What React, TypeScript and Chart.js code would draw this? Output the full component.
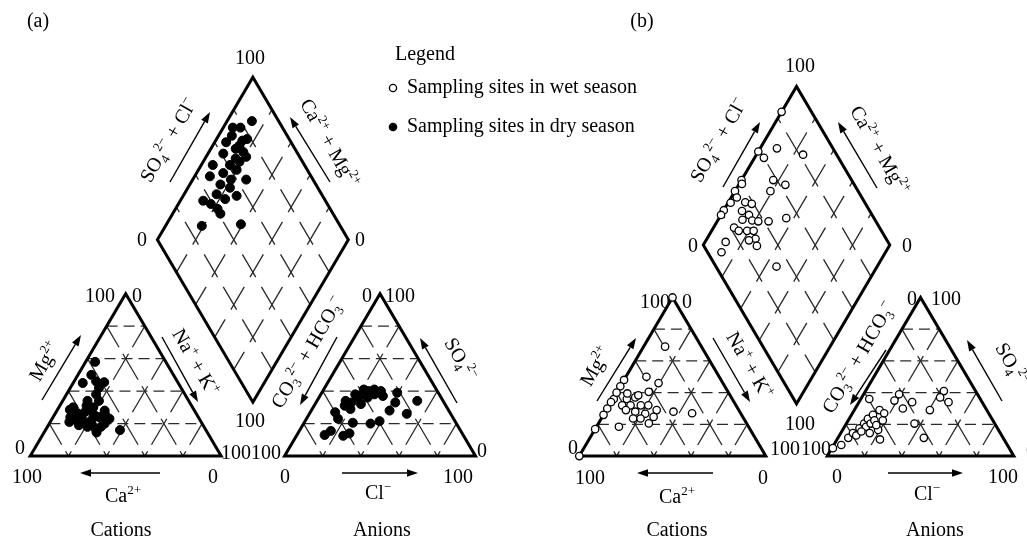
import React, { useEffect, useRef } from "react";
import { Chart, registerables } from "chart.js";
Chart.register(...registerables);

const S3 = Math.sqrt(3) / 2;
const FONT = '"Liberation Serif", "Times New Roman", serif';

// ---------- Panel (a): sampling sites in dry season ----------
// cation triangle: Na+ + K+ (%) and Mg2+ (%)
const dryCatNaK = [5, 7, 5, 16, 15, 15.5, 13, 12, 15, 18, 12, 16.5, 21, 24, 27, 29, 21, 16, 28, 39, 18, 30, 11.5, 7.5, 27.5, 6.5, 10, 20, 23, 25, 14, 9, 19];
const dryCatMg = [58, 50, 45, 45.5, 42, 38, 34, 26, 27, 28, 23, 22, 22, 24, 25, 20, 18, 19, 18, 16, 30, 23, 46, 30, 14.5, 28.5, 21, 26, 19, 28, 31, 24, 34];
// anion triangle: Cl- (%) and SO4 2- (%)
const dryAnCl = [52.5, 51, 41, 39.5, 41.5, 26.5, 30.5, 21, 20.5, 18.5, 16, 25.5, 16.5, 25.5, 35, 39, 14.5, 16.5, 24.5, 27, 24, 33, 24, 18, 15, 22, 28, 20, 13];
const dryAnSO4 = [34, 26, 28, 39, 33, 41, 40, 41, 36, 33, 31, 36, 23, 20.5, 20, 21.5, 13, 15.5, 12.5, 14, 32, 37, 40, 38, 34, 38, 38, 29, 27];
// diamond: SO4 2- + Cl- (%) and Ca2+ + Mg2+ (%)
const dryDiaSO4Cl = [86, 74, 78, 66, 75, 78, 61, 69, 72, 66, 52, 61, 67, 72, 47, 55, 63, 65, 50, 54, 55, 45, 36, 39, 41, 27.5, 48.5, 48, 41, 57, 72, 71];
const dryDiaCaMg = [87, 95, 91, 94, 86, 84, 92, 87, 82, 84, 94, 85, 81, 79, 92, 86, 80, 72, 84, 78, 72, 83, 88, 83, 75, 81, 61, 77, 78, 80, 86, 93];

// ---------- Panel (b): sampling sites in wet season ----------
const wetCatNaK = [0, 11.5, 11, 19.5, 0, 0, 17, 0.5, 0, 0, 0, 0, 12, 7.5, 11.5, 11.5, 17, 21, 16, 22, 27, 17, 27, 21, 36.5, 47, 7, 10.5, 0, 6, 27.5, 12.5, 0];
const wetCatMg = [100, 69, 50, 46, 48, 44, 40.5, 36, 30, 26, 17, 0, 18.5, 36, 37, 32, 32, 32, 28, 26.7, 29, 23.7, 20.6, 23.7, 28, 27, 32, 29, 34, 39.5, 24.7, 38.3, 40];
const wetAnCl = [4.5, 13.5, 19, 18.5, 25.5, 28.5, 42, 42, 48, 40.5, 36.5, 46, 23, 19, 18.5, 0.5, 4, 5.5, 6.5, 8.5, 9.5, 10, 11.5, 11.5, 13, 14, 9, 10.5, 16.5, 15.5, 17];
const wetAnSO4 = [36, 29, 39, 35, 30, 34, 41, 37, 34, 29, 20.5, 11.5, 10.5, 16.5, 22.5, 5, 7, 11.5, 14.5, 17.5, 20.5, 23.5, 26, 18.5, 20.5, 22.5, 13, 15.5, 19.5, 14.5, 27];
const wetDiaSO4Cl = [84, 59, 60, 70, 82, 41, 40, 34, 58, 63, 53, 22, 19, 28, 36, 39, 31.5, 34, 34, 37, 29, 22, 23.5, 28, 31.5, 30, 26, 28.5, 42.5, 53, 13, 7.5, 32.5, 33];
const wetDiaCaMg = [100, 100, 95, 91, 75, 100, 98.6, 100, 83, 75, 81, 100, 100, 98.7, 91, 87, 90, 85, 81.5, 78, 87, 89, 85.5, 81, 77.5, 74, 77, 71, 72.5, 64, 89, 88, 54, 97];

const GAP_A = 33.2;
const GAP_B = 33;

// tick / axis texts
const T0 = "0";
const T100 = "100";

type Run = [string, number];
const R_SO4CL: Run[] = [["SO", 0], ["4", 2], ["2−", 1], [" + Cl", 0], ["−", 1]];
const R_CAMG: Run[] = [["Ca", 0], ["2+", 1], [" + Mg", 0], ["2+", 1]];
const R_MG: Run[] = [["Mg", 0], ["2+", 1]];
const R_NAK: Run[] = [["Na", 0], ["+", 1], [" + K", 0], ["+", 1]];
const R_CO3: Run[] = [["CO", 0], ["3", 2], ["2−", 1], [" + HCO", 0], ["3", 2], ["−", 1]];
const R_SO4: Run[] = [["SO", 0], ["4", 2], ["2−", 1]];
const R_CA: Run[] = [["Ca", 0], ["2+", 1]];
const R_CL: Run[] = [["Cl", 0], ["−", 1]];

interface Lab { t: Run[] | string; x: number; y: number; a?: number; }

const labelsA: Lab[] = [
  { t: "(a)", x: 38, y: 20 },
  { t: T100, x: 250, y: 57 },
  { t: T0, x: 142, y: 239 },
  { t: T0, x: 360, y: 239 },
  { t: R_SO4CL, x: 168, y: 140, a: -60 },
  { t: R_CAMG, x: 330, y: 143, a: 60 },
  { t: T100, x: 100, y: 295 }, { t: T0, x: 137, y: 295 },
  { t: T0, x: 20, y: 447 },
  { t: T100, x: 236, y: 452 }, { t: T100, x: 266, y: 452 },
  { t: T100, x: 27, y: 476 }, { t: T0, x: 213, y: 476 },
  { t: R_CA, x: 123, y: 495 },
  { t: "Cations", x: 121, y: 529 },
  { t: R_MG, x: 44, y: 361, a: -60 },
  { t: R_NAK, x: 196, y: 362, a: 60 },
  { t: T100, x: 250, y: 420 },
  { t: T0, x: 367, y: 295 }, { t: T100, x: 400, y: 295 },
  { t: T0, x: 285, y: 476 }, { t: T100, x: 458, y: 476 },
  { t: T0, x: 482, y: 450 },
  { t: R_CL, x: 378, y: 492 },
  { t: "Anions", x: 382, y: 529 },
  { t: R_CO3, x: 307, y: 352, a: -60 },
  { t: R_SO4, x: 461, y: 359, a: 60 },
];
const arrowsA = [[170, 182, 210, 112], [330, 182, 290, 117], [160, 473, 80, 473], [42, 400, 81, 335], [162, 337, 198, 402], [337, 337, 300, 405], [457, 403, 420, 338], [342, 473, 418, 473]];

const labelsB: Lab[] = [
  { t: "(b)", x: 642, y: 20 },
  { t: T100, x: 800, y: 65 },
  { t: T0, x: 693, y: 245 }, { t: T0, x: 907, y: 245 },
  { t: R_SO4CL, x: 718, y: 140, a: -60 },
  { t: R_CAMG, x: 880, y: 150, a: 60 },
  { t: T100, x: 655, y: 301 }, { t: T0, x: 687, y: 301 },
  { t: T0, x: 573, y: 447 },
  { t: T100, x: 785, y: 448 }, { t: T100, x: 816, y: 448 },
  { t: T100, x: 590, y: 477 }, { t: T0, x: 763, y: 477 },
  { t: R_CA, x: 677, y: 496 },
  { t: "Cations", x: 677, y: 529 },
  { t: R_MG, x: 595, y: 366, a: -60 },
  { t: R_NAK, x: 750, y: 365, a: 60 },
  { t: T100, x: 800, y: 423 },
  { t: T0, x: 912, y: 298 }, { t: T100, x: 946, y: 298 },
  { t: T0, x: 837, y: 476 }, { t: T100, x: 1003, y: 476 },
  { t: T0, x: 1031, y: 450 },
  { t: R_CL, x: 927, y: 493 },
  { t: "Anions", x: 935, y: 529 },
  { t: R_CO3, x: 858, y: 357, a: -60 },
  { t: R_SO4, x: 1012, y: 364, a: 60 },
];
const arrowsB = [[723, 187, 760, 122], [877, 188, 838, 122], [713, 473, 637, 473], [597, 401, 636, 338], [713, 338, 750, 402], [886, 350, 850, 405], [1002, 401, 967, 340], [888, 473, 963, 473]];

const LEGEND_TITLE = "Legend";
const LEGEND_WET = "Sampling sites in wet season";
const LEGEND_DRY = "Sampling sites in dry season";

// ---------- ternary -> piper plane ----------
const catPt = (nak: number, mg: number) => ({ x: nak + mg / 2, y: mg * S3 });
const anPt = (cl: number, so4: number, g: number) => ({ x: 100 + g + cl + so4 / 2, y: so4 * S3 });
const diaPt = (a: number, b: number, g: number) => ({ x: 100 + g / 2 + 0.5 * (a - b), y: g * S3 + S3 * (a + b) });

function buildPoints(cN: number[], cM: number[], aC: number[], aS: number[], dA: number[], dB: number[], g: number) {
  const pts: { x: number; y: number }[] = [];
  cN.forEach((v, i) => pts.push(catPt(v, cM[i])));
  aC.forEach((v, i) => pts.push(anPt(v, aS[i], g)));
  dA.forEach((v, i) => pts.push(diaPt(v, dB[i], g)));
  return pts;
}

function drawRich(ctx: CanvasRenderingContext2D, t: Run[] | string, cx: number, cy: number, ang: number, fs: number) {
  const runs: Run[] = typeof t === "string" ? [[t, 0]] : t;
  const small = fs * 0.65;
  ctx.save();
  ctx.translate(cx, cy);
  ctx.rotate((ang * Math.PI) / 180);
  ctx.textAlign = "left";
  ctx.textBaseline = "alphabetic";
  ctx.fillStyle = "#000";
  let w = 0;
  for (const [s, k] of runs) {
    ctx.font = `${k ? small : fs}px ${FONT}`;
    w += ctx.measureText(s).width;
  }
  let x = -w / 2;
  const base = fs * 0.34;
  for (const [s, k] of runs) {
    ctx.font = `${k ? small : fs}px ${FONT}`;
    const dy = k === 1 ? -fs * 0.4 : k === 2 ? fs * 0.22 : 0;
    ctx.fillText(s, x, base + dy);
    x += ctx.measureText(s).width;
  }
  ctx.restore();
}

function drawArrow(ctx: CanvasRenderingContext2D, a: number[]) {
  const [x1, y1, x2, y2] = a;
  const ang = Math.atan2(y2 - y1, x2 - x1);
  const hl = 11, hw = 3.8;
  const bx = x2 - hl * Math.cos(ang), by = y2 - hl * Math.sin(ang);
  ctx.save();
  ctx.strokeStyle = "#000";
  ctx.fillStyle = "#000";
  ctx.lineWidth = 1.4;
  ctx.setLineDash([]);
  ctx.beginPath();
  ctx.moveTo(x1, y1);
  ctx.lineTo(bx, by);
  ctx.stroke();
  ctx.beginPath();
  ctx.moveTo(x2, y2);
  ctx.lineTo(bx - hw * Math.sin(ang), by + hw * Math.cos(ang));
  ctx.lineTo(bx + hw * Math.sin(ang), by - hw * Math.cos(ang));
  ctx.closePath();
  ctx.fill();
  ctx.restore();
}

function drawPanel(chart: any, xId: string, yId: string, g: number) {
  const ctx: CanvasRenderingContext2D = chart.ctx;
  const xs = chart.scales[xId], ys = chart.scales[yId];
  const X = (v: number) => xs.getPixelForValue(v);
  const Y = (v: number) => ys.getPixelForValue(v);
  const P = (p: number[]) => [X(p[0]), Y(p[1])];

  const segLine = (top: number[], bot: number[], n: number, above: number, below: number) => {
    const [x0, y0] = P(top), [x1, y1] = P(bot);
    ctx.beginPath();
    for (let k = 0; k <= n; k++) {
      const t0 = Math.max(0, (k - above) / n), t1 = Math.min(1, (k + below) / n);
      if (t1 <= t0) continue;
      ctx.moveTo(x0 + (x1 - x0) * t0, y0 + (y1 - y0) * t0);
      ctx.lineTo(x0 + (x1 - x0) * t1, y0 + (y1 - y0) * t1);
    }
    ctx.stroke();
  };

  ctx.save();
  ctx.strokeStyle = "#2a2a2a";
  ctx.lineWidth = 1.3;
  // triangle grids
  for (const x0 of [0, 100 + g]) {
    ctx.setLineDash([11, 6]);
    for (let k = 1; k <= 4; k++) {
      const h = 20 * k;
      const a = P([x0 + h / 2, h * S3]), b = P([x0 + 100 - h / 2, h * S3]);
      ctx.beginPath();
      ctx.moveTo(a[0], a[1]);
      ctx.lineTo(b[0], b[1]);
      ctx.stroke();
    }
    ctx.setLineDash([]);
    for (let j = 1; j <= 4; j++) {
      const bot = [x0 + 20 * j, 0];
      segLine([x0 + 20 * j + (100 - 20 * j) / 2, (100 - 20 * j) * S3], bot, 5 - j, 0.15, 0.65);
      segLine([x0 + 10 * j, 20 * j * S3], bot, j, 0.15, 0.65);
    }
  }
  // diamond grid
  for (let j = 1; j <= 4; j++) {
    const v = 20 * j;
    const t1 = diaPt(v, 100, g), b1 = diaPt(v, 0, g);
    segLine([t1.x, t1.y], [b1.x, b1.y], 5, 0.55, 0.15);
    const t2 = diaPt(100, v, g), b2 = diaPt(0, v, g);
    segLine([t2.x, t2.y], [b2.x, b2.y], 5, 0.55, 0.15);
  }
  // outlines
  ctx.strokeStyle = "#000";
  ctx.lineWidth = 3;
  ctx.lineJoin = "miter";
  const poly = (pts: number[][]) => {
    ctx.beginPath();
    pts.forEach((p, i) => {
      const [px, py] = P(p);
      if (i === 0) ctx.moveTo(px, py);
      else ctx.lineTo(px, py);
    });
    ctx.closePath();
    ctx.stroke();
  };
  poly([[0, 0], [100, 0], [50, 100 * S3]]);
  poly([[100 + g, 0], [200 + g, 0], [150 + g, 100 * S3]]);
  poly([[100 + g / 2, g * S3], [150 + g / 2, (100 + g) * S3], [100 + g / 2, (200 + g) * S3], [50 + g / 2, (100 + g) * S3]]);
  ctx.restore();
}

const piperPlugin = {
  id: "piper",
  beforeDatasetsDraw(chart: any) {
    const ctx: CanvasRenderingContext2D = chart.ctx;
    drawPanel(chart, "xa", "ya", GAP_A);
    drawPanel(chart, "xb", "yb", GAP_B);
    for (const l of [...labelsA, ...labelsB]) drawRich(ctx, l.t, l.x, l.y, l.a || 0, 20);
    for (const a of [...arrowsA, ...arrowsB]) drawArrow(ctx, a);
    // legend
    ctx.save();
    ctx.fillStyle = "#000";
    ctx.font = `20px ${FONT}`;
    ctx.textBaseline = "middle";
    ctx.textAlign = "left";
    ctx.fillText(LEGEND_TITLE, 395, 55);
    ctx.fillText(LEGEND_WET, 407, 88);
    ctx.fillText(LEGEND_DRY, 407, 127);
    ctx.lineWidth = 1.3;
    ctx.strokeStyle = "#000";
    ctx.fillStyle = "#fff";
    ctx.beginPath();
    ctx.arc(393, 88, 3.6, 0, Math.PI * 2);
    ctx.fill();
    ctx.stroke();
    ctx.fillStyle = "#000";
    ctx.beginPath();
    ctx.arc(393, 127, 4.3, 0, Math.PI * 2);
    ctx.fill();
    ctx.restore();
  },
};

export default function App() {
  const ref = useRef<HTMLCanvasElement>(null);
  useEffect(() => {
    if (!ref.current) return;
    const dry = buildPoints(dryCatNaK, dryCatMg, dryAnCl, dryAnSO4, dryDiaSO4Cl, dryDiaCaMg, GAP_A);
    const wet = buildPoints(wetCatNaK, wetCatMg, wetAnCl, wetAnSO4, wetDiaSO4Cl, wetDiaCaMg, GAP_B);
    const chart = new Chart(ref.current, {
      type: "scatter",
      data: {
        datasets: [
          { label: LEGEND_DRY, data: dry, xAxisID: "xa", yAxisID: "ya", pointRadius: 4.5, pointStyle: "circle", backgroundColor: "#000", borderColor: "#000", borderWidth: 1, clip: false } as any,
          { label: LEGEND_WET, data: wet, xAxisID: "xb", yAxisID: "yb", pointRadius: 3.7, pointStyle: "circle", backgroundColor: "#fff", borderColor: "#000", borderWidth: 1.3, clip: false } as any,
        ],
      },
      options: {
        responsive: false,
        animation: false,
        devicePixelRatio: 1,
        events: [],
        layout: { padding: 0 },
        plugins: { legend: { display: false }, tooltip: { enabled: false } },
        scales: {
          xa: { type: "linear", display: false, bounds: "data", min: -25 / 1.93, max: (1027 - 25) / 1.93 },
          ya: { type: "linear", display: false, bounds: "data", min: -78 / 1.915, max: 460 / 1.915 },
          xb: { type: "linear", display: false, bounds: "data", min: -580 / 1.885, max: 447 / 1.885 },
          yb: { type: "linear", display: false, bounds: "data", min: -78 / 1.87, max: 460 / 1.87 },
        },
      } as any,
      plugins: [piperPlugin],
    });
    return () => chart.destroy();
  }, []);
  return (
    <div style={{ position: "absolute", left: 0, top: 0, width: 1027, height: 538, background: "#fff" }}>
      <canvas ref={ref} width={1027} height={538} style={{ display: "block" }} />
    </div>
  );
}
